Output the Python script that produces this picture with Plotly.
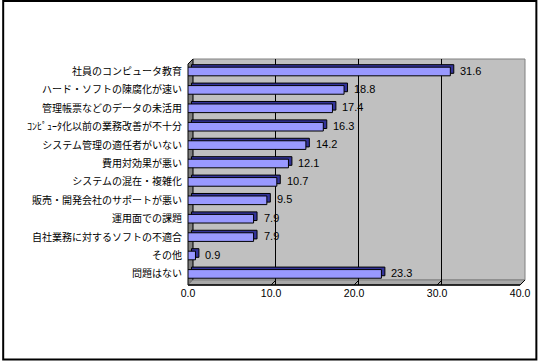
import plotly.graph_objects as go

categories = [
    "社員のコンピュータ教育",
    "ハード・ソフトの陳腐化が速い",
    "管理帳票などのデータの未活用",
    "ｺﾝﾋﾟｭｰﾀ化以前の業務改善が不十分",
    "システム管理の適任者がいない",
    "費用対効果が悪い",
    "システムの混在・複雑化",
    "販売・開発会社のサポートが悪い",
    "運用面での課題",
    "自社業務に対するソフトの不適合",
    "その他",
    "問題はない",
]
values = [31.6, 18.8, 17.4, 16.3, 14.2, 12.1, 10.7, 9.5, 7.9, 7.9, 0.9, 23.3]
value_labels = ["31.6", "18.8", "17.4", "16.3", "14.2", "12.1", "10.7", "9.5", "7.9", "7.9", "0.9", "23.3"]
tick_vals = [0, 10, 20, 30, 40]
tick_text = ["0.0", "10.0", "20.0", "30.0", "40.0"]

W, H = 542, 361
L, R, T, B = 188, 529, 59, 285          # plot area in pixels
DEPTH = 5                               # 3D depth in pixels
PXU = (524 - 188) / 40.0                # pixels per unit on front axis
XMAX = (R - L) / PXU
ROW0, ROWSTEP = 71.5, 18.4


def px(p):
    return (p - L) / (R - L)


def py(p):
    return (B - p) / (B - T)


bar_w = 0.47
depth_units_x = 3.5 / PXU
depth_units_y = 2.5 / ROWSTEP

fig = go.Figure()
# depth (3D side) of bars
fig.add_trace(go.Bar(
    y=categories, x=values, base=depth_units_x, orientation="h",
    width=bar_w, offset=-bar_w / 2 - depth_units_y,
    marker=dict(color="#333399", line=dict(color="#000000", width=1)),
    hoverinfo="skip", showlegend=False,
))
# front face
fig.add_trace(go.Bar(
    y=categories, x=values, orientation="h",
    width=bar_w, offset=-bar_w / 2,
    marker=dict(color="#9999FF", line=dict(color="#000000", width=1)),
    hoverinfo="skip", showlegend=False,
))
# invisible trace to carry the back-wall grid axis
fig.add_trace(go.Scatter(
    x=[0], y=[categories[0]], xaxis="x2", mode="markers",
    marker=dict(opacity=0), hoverinfo="skip", showlegend=False,
))

shapes = []
# back wall
shapes.append(dict(type="rect", xref="paper", yref="paper",
                   x0=px(L + DEPTH), x1=px(R), y0=py(B - DEPTH), y1=py(T),
                   fillcolor="#C0C0C0", line=dict(color="#808080", width=1), layer="below"))
# left wall
shapes.append(dict(type="path", xref="paper", yref="paper",
                   path=f"M {px(L)},{py(T + DEPTH)} L {px(L + DEPTH)},{py(T)} L {px(L + DEPTH)},{py(B - DEPTH)} L {px(L)},{py(B)} Z",
                   fillcolor="#808080", line=dict(color="#000000", width=1), layer="between"))
# floor
shapes.append(dict(type="path", xref="paper", yref="paper",
                   path=f"M {px(L)},{py(B)} L {px(L + DEPTH)},{py(B - DEPTH)} L {px(R)},{py(B - DEPTH)} L {px(R - DEPTH)},{py(B)} Z",
                   fillcolor="#A8A8A8", line=dict(color="#808080", width=1), layer="between"))
# front axis line
shapes.append(dict(type="line", xref="paper", yref="paper",
                   x0=px(L), x1=px(R - DEPTH), y0=py(B), y1=py(B),
                   line=dict(color="#000000", width=1.5), layer="above"))
# small diagonal tick marks on floor
for tv in tick_vals[1:]:
    shapes.append(dict(type="line", xref="x", yref="paper",
                       x0=tv, x1=tv + DEPTH / PXU, y0=py(B), y1=py(B - DEPTH),
                       line=dict(color="#000000", width=1), layer="above"))
# outer border
shapes.append(dict(type="rect", xref="paper", yref="paper",
                   x0=px(1), x1=px(540.5), y0=py(359.5), y1=py(1),
                   line=dict(color="#000000", width=2), fillcolor="rgba(0,0,0,0)", layer="above"))

annotations = []
for cat, v, lab in zip(categories, values, value_labels):
    annotations.append(dict(x=v, y=cat, xref="x", yref="y", text=lab,
                            showarrow=False, xanchor="left", yanchor="middle",
                            xshift=8, yshift=1,
                            font=dict(family="Liberation Sans, Arial", size=11, color="#000000")))

fig.update_layout(
    width=W, height=H,
    margin=dict(l=L, r=W - R, t=T, b=H - B, pad=0),
    paper_bgcolor="#FFFFFF", plot_bgcolor="#FFFFFF",
    barmode="overlay",
    shapes=shapes, annotations=annotations,
    xaxis=dict(range=[0, XMAX], tickvals=tick_vals, ticktext=tick_text,
               showgrid=False, zeroline=False, showline=False,
               ticks="", ticklen=0,
               tickfont=dict(family="Liberation Sans, Arial", size=10.5, color="#000000")),
    xaxis2=dict(range=[-DEPTH / PXU, XMAX - DEPTH / PXU], overlaying="x",
                tickvals=tick_vals[1:4], showticklabels=False, showgrid=True,
                gridcolor="#000000", gridwidth=1, zeroline=False, showline=False,
                anchor="y", side="bottom"),
    yaxis=dict(type="category", categoryorder="array", categoryarray=categories,
               range=[(B - ROW0) / ROWSTEP, (T - ROW0) / ROWSTEP],
               showgrid=False, zeroline=False, showline=False,
               ticks="outside", ticklen=3, tickcolor="rgba(0,0,0,0)",
               tickfont=dict(family="Noto Sans CJK JP", size=10, color="#000000")),
    hovermode=False,
)

fig.write_html("out.html")
